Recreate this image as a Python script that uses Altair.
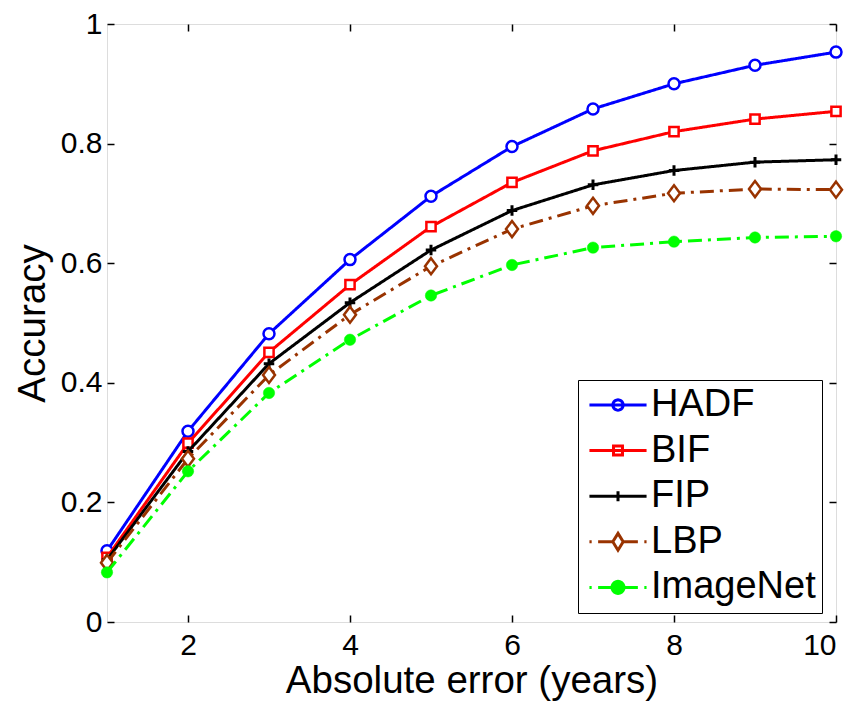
import math
import altair as alt
import pandas as pd

# ---- data ----
errors = [1, 2, 3, 4, 5, 6, 7, 8, 9, 10]
series_names = ["HADF", "BIF", "FIP", "LBP", "ImageNet"]
hadf = [0.119, 0.319, 0.482, 0.606, 0.712, 0.795, 0.858, 0.900, 0.931, 0.953]
bif = [0.108, 0.299, 0.451, 0.564, 0.661, 0.735, 0.788, 0.820, 0.841, 0.854]
fip = [0.104, 0.285, 0.432, 0.534, 0.622, 0.688, 0.731, 0.755, 0.769, 0.773]
lbp = [0.099, 0.273, 0.413, 0.514, 0.595, 0.657, 0.696, 0.717, 0.724, 0.723]
imagenet = [0.083, 0.252, 0.383, 0.472, 0.546, 0.597, 0.626, 0.636, 0.643, 0.645]
x_ticks = [2, 4, 6, 8, 10]
y_ticks = [0, 0.2, 0.4, 0.6, 0.8, 1]

values = {"HADF": hadf, "BIF": bif, "FIP": fip, "LBP": lbp, "ImageNet": imagenet}
rows = []
for s in series_names:
    for xv, yv in zip(errors, values[s]):
        rows.append({"x": xv, "series": s, "value": yv})
df = pd.DataFrame(rows)

colors = ["#0000ff", "#ff0000", "#000000", "#993300", "#00ff00"]
DASHDOT = [14, 6, 3, 6]

FONT = "Liberation Sans"
W, H = 729, 598

xscale = alt.Scale(domain=[1, 10], nice=False, zero=False)
yscale = alt.Scale(domain=[0, 1], nice=False, zero=False)

main_x_axis = alt.Axis(values=x_ticks, ticks=False, domain=False, grid=False,
                       labelFontSize=30, labelPadding=8, labelFont=FONT,
                       labelColor="black", title="Absolute error (years)",
                       titleFontSize=38.5, titleFont=FONT, titleFontWeight="normal",
                       titleColor="black", titlePadding=2, orient="bottom")
main_y_axis = alt.Axis(values=y_ticks, ticks=False, domain=False, grid=False,
                       format="~g", labelFontSize=30, labelPadding=5, labelFont=FONT,
                       labelColor="black", title="Accuracy", titleFontSize=38.5,
                       titleFont=FONT, titleFontWeight="normal", titleColor="black",
                       titlePadding=8, orient="left")


def tick_axis(orient, vals, offset):
    return alt.Axis(orient=orient, values=vals, offset=offset, labels=False,
                    domain=False, grid=False, ticks=True, tickSize=7,
                    tickWidth=1.5, tickColor="black", title=None)


base = alt.Chart(df)

# axes layer (labels + titles), invisible marks
axes_layer = base.transform_filter("false").mark_point(opacity=0).encode(
    x=alt.X("x:Q", scale=xscale, axis=main_x_axis),
    y=alt.Y("value:Q", scale=yscale, axis=main_y_axis),
)
# inward ticks: bottom + left
ticks_a = base.transform_filter("false").mark_point(opacity=0).encode(
    x=alt.X("x:Q", scale=xscale, axis=tick_axis("top", x_ticks, -H)),
    y=alt.Y("value:Q", scale=yscale, axis=tick_axis("right", y_ticks, -W)),
)
# inward ticks: top + right
ticks_b = base.transform_filter("false").mark_point(opacity=0).encode(
    x=alt.X("x:Q", scale=xscale, axis=tick_axis("bottom", x_ticks, -H)),
    y=alt.Y("value:Q", scale=yscale, axis=tick_axis("left", y_ticks, -W)),
)

plus_path = "M-1,0L1,0M0,-1L0,1"
diamond_path = "M0,-1L0.75,0L0,1L-0.75,0Z"
marker_specs = {
    "HADF": dict(shape="circle", size=121, fill="white", strokeWidth=2.5),
    "BIF": dict(shape="square", size=85, fill="white", strokeWidth=2.5),
    "FIP": dict(shape=plus_path, size=110, fill="transparent", strokeWidth=3),
    "LBP": dict(shape=diamond_path, size=256, fill="white", strokeWidth=2.5),
    "ImageNet": dict(shape="circle", size=130, fill="#00ff00", strokeWidth=0.5),
}
line_dash = {"HADF": [1, 0], "BIF": [1, 0], "FIP": [1, 0], "LBP": DASHDOT, "ImageNet": DASHDOT}

series_layers = []
for s, c in zip(series_names, colors):
    sub = base.transform_filter(alt.datum.series == s)
    ln = sub.mark_line(strokeWidth=3, color=c, strokeDash=line_dash[s]).encode(
        x=alt.X("x:Q", scale=xscale, axis=None),
        y=alt.Y("value:Q", scale=yscale, axis=None),
        order=alt.Order("x:Q"),
    )
    pt = sub.mark_point(filled=True, opacity=1, stroke=c, **marker_specs[s]).encode(
        x=alt.X("x:Q", scale=xscale, axis=None),
        y=alt.Y("value:Q", scale=yscale, axis=None),
    )
    series_layers += [ln, pt]


# legend symbols: line segment (dash-dot drawn as segments) + marker, as path strings
def ring(r, n=20):
    pts = [(r * math.cos(2 * math.pi * i / n), r * math.sin(2 * math.pi * i / n)) for i in range(n)]
    return "M" + "L".join(f"{px:.3f},{py:.3f}" for px, py in pts) + "Z"


L = 2.04
solid = f"M-{L},0L{L},0"
dashdot = lambda gap: f"M-{L},0L-1.88,0M-1.42,0L-{gap},0M{gap},0L1.42,0M1.88,0L{L},0"
leg_paths = [
    solid + ring(0.37),
    solid + "M-0.32,-0.32L0.32,-0.32L0.32,0.32L-0.32,0.32Z",
    solid + "M0,-0.36L0,0.36",
    dashdot(0.37) + "M0,-0.6L0.37,0L0,0.6L-0.37,0Z",
    dashdot(0.43) + ring(0.43),
]
leg_fills = ["transparent", "transparent", "transparent", "transparent", "#00ff00"]

legend = alt.Legend(
    title=None, orient="none", legendX=471, legendY=356,
    labelFont=FONT, labelFontSize=38, labelColor="black", labelLimit=500,
    padding=6, rowPadding=7.6, symbolOffset=15, labelOffset=14,
    symbolSize=784, symbolStrokeWidth=3, symbolOpacity=1,
    strokeColor="black", fillColor="white",
)

# invisible layer (opacity 0) that only provides the legend
legend_layer = base.mark_point(filled=True, opacity=0, strokeWidth=3).encode(
    x=alt.X("x:Q", scale=xscale, axis=None),
    y=alt.Y("value:Q", scale=yscale, axis=None),
    stroke=alt.Stroke("series:N", scale=alt.Scale(domain=series_names, range=colors), legend=legend),
    fill=alt.Fill("series:N", scale=alt.Scale(domain=series_names, range=leg_fills), legend=legend),
    shape=alt.Shape("series:N", scale=alt.Scale(domain=series_names, range=leg_paths), legend=legend),
)

chart = alt.layer(axes_layer, ticks_a, ticks_b, *series_layers, legend_layer).resolve_axis(
    x="independent", y="independent"
).properties(
    width=W, height=H,
    autosize=alt.AutoSizeParams(type="none"),
    padding={"left": 99, "top": 16, "right": 10, "bottom": 80},
).configure_view(stroke="black", strokeWidth=1.5).configure(background="white")

chart.save("out.html", embed_options={"renderer": "svg", "actions": False})
